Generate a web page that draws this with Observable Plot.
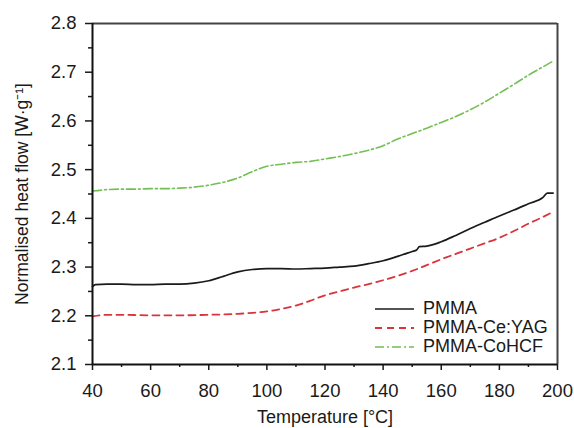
<!DOCTYPE html>
<html><head><meta charset="utf-8">
<script src="https://cdn.jsdelivr.net/npm/d3@7"></script>
<script src="https://cdn.jsdelivr.net/npm/@observablehq/plot@0.6"></script>
<style>
body{margin:0;background:#fff;font-family:"Liberation Sans",Arial,sans-serif}
#wrap{position:relative;width:574px;height:428px}
#legend{position:absolute;left:375px;top:299px;font-size:18px;color:#1a1a1a;line-height:19px}
#legend .row{display:flex;align-items:center;height:19px}
#legend svg{margin-right:9px}
</style></head><body><div id="wrap"><div id="legend"></div></div>
<script>
const seriesNames = ["PMMA", "PMMA-Ce:YAG", "PMMA-CoHCF"];
const seriesColors = ["#1a1a1a", "#d9343a", "#74bf55"];
const seriesDash = [null, "7,5", "9,3,2,3"];
const seriesWidth = [1.7, 1.8, 1.6];

const tPMMA = [40,41,45,50,55,60,65,70,75,80,85,90,95,100,105,110,115,120,125,130,135,140,145,150,151.5,152.5,155,160,165,170,175,180,185,190,195,196.5,198.5];
const vPMMA = [2.260,2.264,2.265,2.265,2.264,2.264,2.265,2.265,2.267,2.272,2.281,2.290,2.295,2.297,2.297,2.296,2.297,2.298,2.300,2.302,2.307,2.313,2.322,2.332,2.335,2.342,2.343,2.352,2.365,2.379,2.392,2.405,2.417,2.430,2.443,2.452,2.452];

const tCeYAG = [40,45,50,60,70,80,90,95,100,105,110,115,120,125,130,135,140,145,150,155,160,165,170,175,180,185,190,195,198];
const vCeYAG = [2.199,2.202,2.202,2.201,2.201,2.202,2.204,2.206,2.209,2.214,2.221,2.231,2.242,2.250,2.258,2.265,2.273,2.282,2.292,2.304,2.316,2.327,2.338,2.349,2.360,2.374,2.389,2.403,2.412];

const tCoHCF = [40,45,50,55,60,65,70,75,80,85,90,95,100,105,110,115,120,125,130,135,140,145,150,155,160,165,170,175,180,185,190,195,198.5];
const vCoHCF = [2.456,2.459,2.460,2.460,2.461,2.461,2.462,2.464,2.468,2.474,2.483,2.496,2.507,2.511,2.515,2.517,2.522,2.527,2.533,2.540,2.549,2.563,2.574,2.585,2.597,2.609,2.623,2.639,2.657,2.675,2.694,2.711,2.723];

const xMajor = [40,60,80,100,120,140,160,180,200];
const xMinor = [50,70,90,110,130,150,170,190];
const yMajor = [2.1,2.2,2.3,2.4,2.5,2.6,2.7,2.8];
const yMinor = [2.15,2.25,2.35,2.45,2.55,2.65,2.75];

const temps = [tPMMA, tCeYAG, tCoHCF];
const vals = [vPMMA, vCeYAG, vCoHCF];
const table = seriesNames.map((s, i) => temps[i].map((t, j) => ({series: s, T: t, v: vals[i][j]})));

const lineMarks = seriesNames.map((s, i) => Plot.line(table[i], {
  x: "T", y: "v", stroke: seriesColors[i], strokeWidth: seriesWidth[i],
  strokeDasharray: seriesDash[i] || undefined, curve: "monotone-x"
}));

const chart = Plot.plot({
  width: 574, height: 428,
  marginLeft: 92, marginRight: 17, marginTop: 23, marginBottom: 64,
  style: {fontFamily: '"Liberation Sans", Arial, sans-serif', fontSize: "18.5px", color: "#1a1a1a", background: "#fff"},
  x: {domain: [40, 200]},
  y: {domain: [2.1, 2.8]},
  marks: [
    Plot.ruleX([200], {stroke: "#444", strokeWidth: 2}),
    Plot.ruleY([2.8], {stroke: "#444", strokeWidth: 2}),
    ...lineMarks,
    Plot.axisY({ticks: yMajor, tickSize: 7, tickPadding: 9, strokeWidth: 1.5, tickFormat: d3.format(".1f"),
      label: "Normalised heat flow [W·g⁻¹]", labelAnchor: "center", labelOffset: 77, labelArrow: "none"}),
    Plot.axisY({ticks: yMinor, tickSize: 4, strokeWidth: 1.5, tickFormat: () => "", label: null}),
    Plot.axisX({ticks: xMajor, tickSize: 6, tickPadding: 13, strokeWidth: 1.5,
      label: "Temperature [°C]", labelAnchor: "center", labelOffset: 58, labelArrow: "none"}),
    Plot.axisX({ticks: xMinor, tickSize: 3, strokeWidth: 1.5, tickFormat: () => "", label: null}),
    Plot.ruleX([40], {stroke: "#111", strokeWidth: 2}),
    Plot.ruleY([2.1], {stroke: "#111", strokeWidth: 2})
  ]
});
document.getElementById("wrap").prepend(chart);
const yl = chart.querySelector('[aria-label="y-axis label"]');
if (yl) yl.style.fontSize = "17.5px";
const xl = chart.querySelector('[aria-label="x-axis label"]');
if (xl) xl.style.fontSize = "18px";

const legend = document.getElementById("legend");
seriesNames.forEach((s, i) => {
  const row = document.createElement("div");
  row.className = "row";
  row.innerHTML = `<svg width="39" height="6"><line x1="0" x2="39" y1="3" y2="3" stroke="${seriesColors[i]}" stroke-width="${seriesWidth[i]}" ${seriesDash[i] ? `stroke-dasharray="${seriesDash[i]}"` : ""}/></svg><span>${s}</span>`;
  legend.appendChild(row);
});
</script>
</body></html>
